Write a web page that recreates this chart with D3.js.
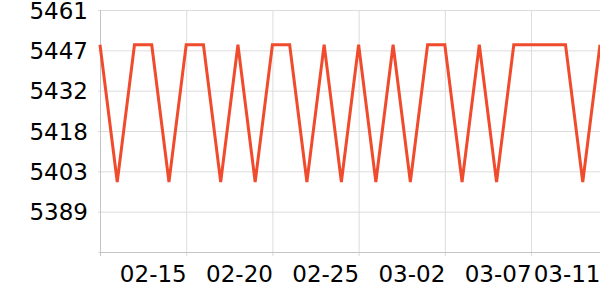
<!DOCTYPE html>
<html>
<head>
<meta charset="utf-8">
<script src="https://cdn.jsdelivr.net/npm/d3@7"></script>
<style>
  body { margin: 0; background: #fff; }
  text { font-family: "DejaVu Sans", sans-serif; }
</style>
</head>
<body>
<script>
// daily values, 02-10 .. 03-11
var dates = ["2023-02-10", "2023-02-11", "2023-02-12", "2023-02-13", "2023-02-14",
   "2023-02-15", "2023-02-16", "2023-02-17", "2023-02-18", "2023-02-19",
   "2023-02-20", "2023-02-21", "2023-02-22", "2023-02-23", "2023-02-24",
   "2023-02-25", "2023-02-26", "2023-02-27", "2023-02-28", "2023-03-01",
   "2023-03-02", "2023-03-03", "2023-03-04", "2023-03-05", "2023-03-06",
   "2023-03-07", "2023-03-08", "2023-03-09", "2023-03-10", "2023-03-11"];
var values = [5449, 5400, 5449, 5449, 5400, 5449, 5449, 5400, 5449, 5400,
   5449, 5449, 5400, 5449, 5400, 5449, 5400, 5449, 5400, 5449,
   5449, 5400, 5449, 5400, 5449, 5449, 5449, 5449, 5400, 5449];

var yTicks = [5375, 5389.4, 5403.8, 5418.2, 5432.6, 5447, 5461.4];
var xGridDates = ["2023-02-10", "2023-02-15", "2023-02-20", "2023-02-25", "2023-03-02", "2023-03-07"];
var xLabelDates = ["2023-02-15", "2023-02-20", "2023-02-25", "2023-03-02", "2023-03-07", "2023-03-11"];

var width = 600, height = 300;
var margin = {top: 10, right: 0, bottom: 48, left: 100};
var parse = d3.timeParse("%Y-%m-%d");

var data = dates.map(function(d, i) {
   return {date: parse(d), value: values[i]};
});

var x = d3.scaleTime()
   .domain([parse(dates[0]), parse(dates[dates.length - 1])])
   .range([margin.left, width - margin.right]);

var y = d3.scaleLinear()
   .domain([yTicks[0], yTicks[yTicks.length - 1]])
   .range([height - margin.bottom, margin.top]);

var svg = d3.select("body")
   .append("svg")
   .attr("width", width)
   .attr("height", height);

// horizontal grid + y labels
var yAxis = svg.append("g")
   .attr("transform", "translate(" + margin.left + ",0)")
   .call(d3.axisLeft(y)
      .tickValues(yTicks)
      .tickSize(-(width - margin.left - margin.right))
      .tickPadding(12)
      .tickFormat(function(d, i) { return i == 0 ? "" : Math.floor(d); }));
yAxis.select(".domain").remove();
yAxis.selectAll(".tick line")
   .attr("x1", -2)
   .style("stroke", "#dcdcdc");
yAxis.selectAll(".tick text")
   .style("font-size", "23px")
   .style("fill", "#000")
   .attr("dy", "0.36em");

// vertical grid
var xGrid = svg.append("g")
   .attr("transform", "translate(0," + (height - margin.bottom) + ")")
   .call(d3.axisBottom(x)
      .tickValues(xGridDates.map(parse))
      .tickSize(-(height - margin.top - margin.bottom))
      .tickFormat(""));
xGrid.select(".domain").remove();
xGrid.selectAll(".tick line")
   .attr("y1", 4)
   .style("stroke", function(d, i) { return i == 0 ? "#c4c4c4" : "#dcdcdc"; });

// x axis line and labels
var xAxis = svg.append("g")
   .attr("transform", "translate(0," + (height - margin.bottom) + ")")
   .call(d3.axisBottom(x)
      .tickValues(xLabelDates.map(parse))
      .tickSize(0)
      .tickPadding(30)
      .tickFormat(d3.timeFormat("%m-%d")));
xAxis.select(".domain")
   .style("stroke", "#c4c4c4");
xAxis.selectAll(".tick text")
   .style("font-size", "23px")
   .style("fill", "#000")
   .attr("text-anchor", "end")
   .attr("dy", "0");

var line = d3.line()
   .x(function(d) { return x(d.date); })
   .y(function(d) { return y(d.value); });

svg.append("path")
   .datum(data)
   .attr("d", line)
   .style("fill", "none")
   .style("stroke", "#f04b2d")
   .style("stroke-width", 3)
   .style("stroke-linejoin", "miter");
</script>
</body>
</html>
